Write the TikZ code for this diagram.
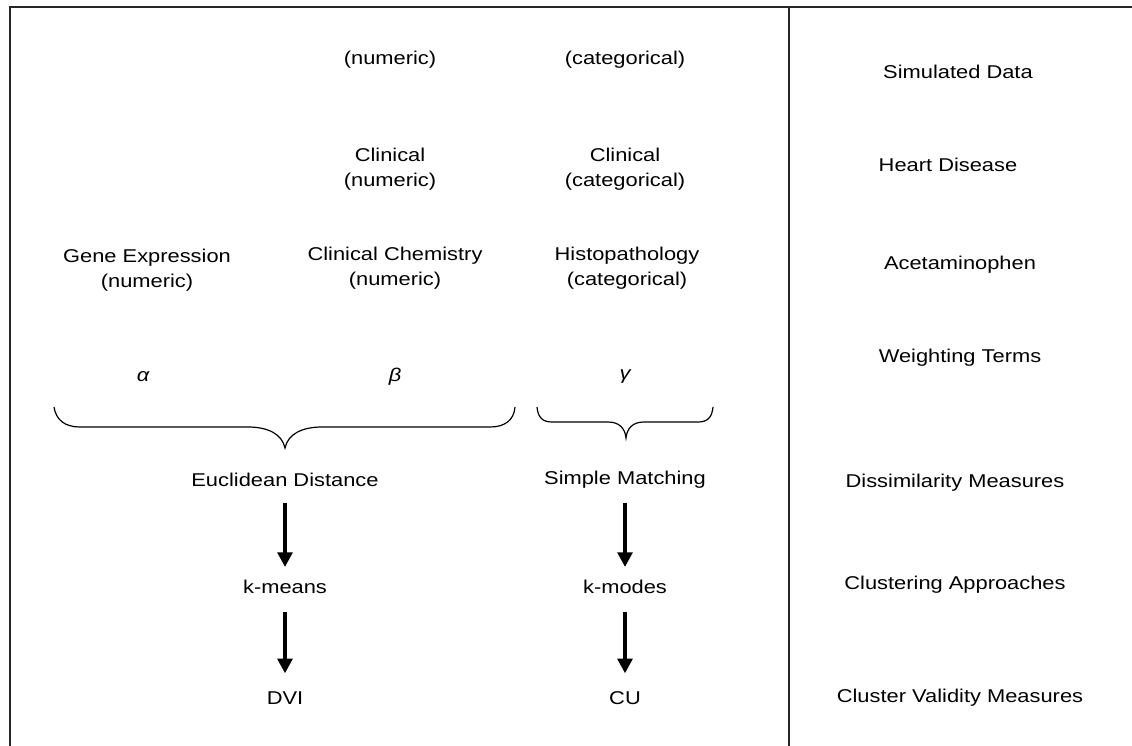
\documentclass[tikz,border=0pt]{standalone}
\usepackage{fontspec}
\setmainfont{Liberation Sans}[FakeStretch=1.18]
\usetikzlibrary{arrows.meta}
\begin{document}
\begin{tikzpicture}[x=0.75pt,y=-0.75pt,
  lbl/.style={align=center,inner sep=0pt,font=\fontsize{13.9pt}{18.75pt}\selectfont},
  frame/.style={line width=1.5pt,black!85},
  bracepath/.style={line width=0.9pt},
  flowarrow/.style={line width=3pt,-{Triangle[width=11pt,length=11pt]}}]
\useasboundingbox (0,0) rectangle (1132,746);
% frame
\draw[frame] (10,746) -- (10,7) -- (1132,7);
\draw[frame] (789,7) -- (789,746);
% row 1
\node[lbl] (n1) at (390,60) {(numeric)};
\node[lbl] (c1) at (625,60) {(categorical)};
\node[lbl] (r1) at (958,72) {Simulated Data};
% row 2
\node[lbl] (n2) at (390,169) {Clinical\\(numeric)};
\node[lbl] (c2) at (625,169) {Clinical\\(categorical)};
\node[lbl] (r2) at (948,165) {Heart Disease};
% row 3
\node[lbl] (g3) at (147,270) {Gene Expression\\(numeric)};
\node[lbl] (n3) at (395,268) {Clinical Chemistry\\(numeric)};
\node[lbl] (c3) at (627,268) {Histopathology\\(categorical)};
\node[lbl] (r3) at (960,265) {Acetaminophen};
% weights
\node[lbl] (alpha) at (143,377) {\itshape α};
\node[lbl] (beta) at (395,377) {\itshape β};
\node[lbl] (gamma) at (625,377) {\itshape γ};
\node[lbl] (r4) at (960,358) {Weighting Terms};
% braces
\draw[bracepath] (54,407) .. controls (56,420) and (65,427) .. (80,427) -- (248,427)
  .. controls (268,427) and (282,434) .. (285,448)
  .. controls (288,434) and (302,427) .. (322,427) -- (490,427)
  .. controls (505,427) and (514,420) .. (515,407);
\draw[bracepath] (537,407) .. controls (538,417) and (542,422) .. (552,422) -- (608,422)
  .. controls (619,422) and (625,428) .. (626,438)
  .. controls (627,428) and (633,422) .. (644,422) -- (698,422)
  .. controls (708,422) and (712,417) .. (713,407);
% measures
\node[lbl] (ed) at (285,480) {Euclidean Distance};
\node[lbl] (sm) at (625,480) {Simple Matching};
\node[lbl] (r5) at (955,483) {Dissimilarity Measures};
\node[lbl] (km) at (285,587) {k-means};
\node[lbl] (kmo) at (625,587) {k-modes};
\node[lbl] (r6) at (955,585) {Clustering Approaches};
\node[lbl] (dvi) at (285,698) {DVI};
\node[lbl] (cu) at (625,698) {CU};
\node[lbl] (r7) at (960,698) {Cluster Validity Measures};
% arrows
\draw[flowarrow,shorten <=17pt,shorten >=15pt] (ed.center) -- (km.center);
\draw[flowarrow,shorten <=17pt,shorten >=15pt] (sm.center) -- (kmo.center);
\draw[flowarrow,shorten <=18.5pt,shorten >=18.5pt] (km.center) -- (dvi.center);
\draw[flowarrow,shorten <=18.5pt,shorten >=18.5pt] (kmo.center) -- (cu.center);
\end{tikzpicture}
\end{document}
